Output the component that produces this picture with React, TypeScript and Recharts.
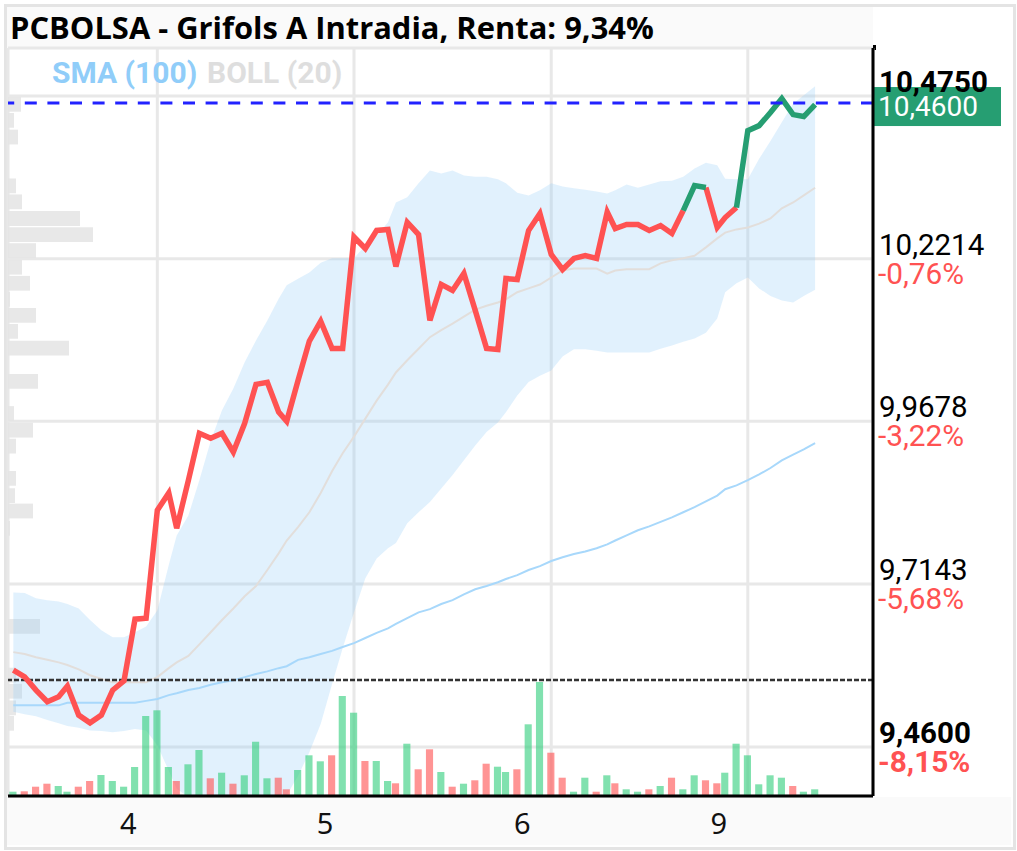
import React from "react";
import { ComposedChart, CartesianGrid, XAxis, YAxis, Area, Line, Bar, Cell, ReferenceLine, ReferenceArea } from "recharts";

const times = [0,1,2,3,4,4.77,5.77,6.77,7.77,8.77,9.77,10.74,11.72,12.71,13.72,14.42,15.45,16.42,17.42,18.42,19.42,20.42,21.42,22.42,23.42,24.13,25.13,26.13,27.13,28.13,29.07,30.07,31.07,32.07,33.07,33.77,34.77,35.77,36.77,37.77,38.77,39.77,40.77,41.77,42.77,43.48,44.48,45.48,46.48,47.48,48.48,49.48,50.48,51.48,52.42,53.13,54.13,55.13,56.13,57.13,58.13,59.13,60.13,61.13,62.13,62.83,63.83,64.83,65.83,66.83,67.83,68.83,69.77,70.77];
const price = [9.5799,9.5695,9.5488,9.5306,9.5383,9.555,9.5098,9.4978,9.5098,9.5488,9.5633,9.6594,9.6609,9.8292,9.8561,9.8011,9.8759,9.9491,9.9413,9.9491,9.92,9.9647,10.0254,10.0285,9.9823,9.9678,10.0316,10.0929,10.124,10.0815,10.0815,10.2552,10.2372,10.2653,10.2668,10.2092,10.2782,10.259,10.1251,10.1812,10.1718,10.1983,10.1407,10.0815,10.0799,10.1905,10.189,10.2653,10.2918,10.2279,10.2045,10.2217,10.2263,10.2217,10.2941,10.2684,10.2746,10.2746,10.2653,10.273,10.2606,10.2964,10.3353,10.3322,10.27,10.2855,10.3011,10.421,10.4288,10.4491,10.4709,10.446,10.4429,10.4615];
const greenRuns = [[61,63],[66,73]];
const sma = [9.525,9.525,9.525,9.525,9.525,9.529,9.529,9.529,9.529,9.529,9.529,9.529,9.532,9.535,9.541,9.544,9.549,9.552,9.557,9.561,9.564,9.569,9.574,9.578,9.583,9.586,9.596,9.6,9.605,9.61,9.616,9.622,9.63,9.638,9.645,9.652,9.661,9.67,9.675,9.683,9.689,9.698,9.706,9.711,9.717,9.722,9.728,9.736,9.742,9.75,9.756,9.761,9.765,9.77,9.776,9.782,9.79,9.798,9.804,9.811,9.818,9.826,9.834,9.843,9.852,9.862,9.868,9.876,9.885,9.895,9.907,9.916,9.924,9.934];
const bollMid = [9.608,9.605,9.6,9.596,9.592,9.588,9.581,9.572,9.566,9.561,9.561,9.561,9.561,9.569,9.583,9.592,9.602,9.62,9.639,9.658,9.676,9.695,9.711,9.736,9.762,9.782,9.803,9.826,9.856,9.89,9.918,9.944,9.972,10.0,10.025,10.044,10.063,10.081,10.099,10.11,10.12,10.131,10.142,10.148,10.153,10.158,10.169,10.175,10.181,10.192,10.203,10.206,10.206,10.206,10.198,10.203,10.205,10.205,10.205,10.214,10.219,10.222,10.226,10.239,10.253,10.262,10.267,10.27,10.276,10.284,10.3,10.309,10.32,10.332];
const bollUp = [9.701,9.7,9.692,9.689,9.687,9.683,9.676,9.658,9.642,9.631,9.631,9.639,9.648,9.673,9.744,9.79,9.821,9.876,9.937,9.985,10.019,10.06,10.094,10.125,10.159,10.18,10.19,10.2,10.215,10.222,10.222,10.222,10.242,10.257,10.278,10.309,10.317,10.339,10.359,10.354,10.359,10.351,10.349,10.349,10.345,10.339,10.324,10.32,10.328,10.339,10.334,10.331,10.329,10.326,10.323,10.328,10.337,10.332,10.337,10.342,10.343,10.349,10.362,10.371,10.367,10.346,10.345,10.345,10.377,10.405,10.434,10.463,10.476,10.49];
const bollLo = [9.515,9.511,9.508,9.502,9.497,9.493,9.49,9.486,9.485,9.483,9.485,9.488,9.486,9.463,9.423,9.395,9.382,9.365,9.342,9.331,9.334,9.331,9.328,9.346,9.365,9.385,9.415,9.452,9.496,9.558,9.614,9.67,9.723,9.754,9.77,9.778,9.809,9.826,9.842,9.863,9.884,9.907,9.93,9.951,9.966,9.982,10.008,10.029,10.039,10.047,10.069,10.08,10.08,10.078,10.075,10.075,10.075,10.075,10.075,10.081,10.086,10.092,10.097,10.106,10.128,10.169,10.183,10.192,10.175,10.163,10.156,10.153,10.163,10.173];
const volume = [4.3,4.7,9.3,12.3,10,4.3,9.3,15,21,15,9.3,29,80,85.7,29,15,31.7,46,17.7,23.3,12.3,20.7,54.3,17.7,18.3,6.7,26,40.7,34.7,40.7,100,83.3,35,35,15,12.7,52.3,26.7,46.7,24,9.3,12.3,15.7,32.3,29.3,24,26.7,71.7,114,43.3,18.3,4.3,18.3,4.3,20.7,12.7,6.7,4.3,6.7,10,18.3,6.7,20.7,15.7,12.7,23.3,52.3,40.7,11.7,20.7,18.3,10,4.3,6.7];
const volumeUp = "GRRRGGRRGGGGGGGRGGRGRGGGRRGGGRGGRGGRGRRGRGRRGGRGGRRGGRGRGGRGRGGRRGGGGGGRGG";
const profilePrices = [10.462,10.437,10.411,10.335,10.31,10.284,10.259,10.234,10.208,10.183,10.158,10.133,10.108,10.082,10.03,9.98,9.954,9.929,9.879,9.852,9.828,9.801,9.648,9.572,9.547,9.521,9.497];
const profileVolume = [13,6,10,8,14,72,85,28,14,22,2,28,10,61,30,6,25,8,8,7,25,2,32,8,14,8,6];
const dayTicks = [12.71,30.07,47.48,64.83];
const dayLabels = ["4","5","6","9"];
const priceTicks = [10.475,10.2214,9.9678,9.7143,9.46];
const priceTickText = ["10,4750","10,2214","9,9678","9,7143","9,4600"];
const pctText = ["","-0,76%","-3,22%","-5,68%","-8,15%"];
const lastPrice = 10.464;
const lastPriceText = "10,4600";
const prevClose = 9.5644;

const RED = "#ff5252";
const GREEN = "#269e72";
const inGreen = (i: number, open: boolean) => greenRuns.some(([a, b]) => (open ? i >= a && i <= b : i > a && i < b));
const data = times.map((t, i) => ({
  t,
  red: inGreen(i, false) ? null : price[i],
  green: inGreen(i, true) ? price[i] : null,
  sma: sma[i],
  mid: bollMid[i],
  band: [bollLo[i], bollUp[i]],
  vol: volume[i],
}));

const X_MIN = -0.47;
const X_MAX = 75.88;
const ROBOTO = "Roboto, sans-serif";

const XTick = (p: any) => (
  <text x={p.x - 29} y={834} textAnchor="middle" fontFamily="'Noto Sans'" fontSize={29} fill="#111">
    {dayLabels[dayTicks.indexOf(p.payload.value)]}
  </text>
);
const YTick = (p: any) => {
  const i = priceTicks.indexOf(p.payload.value);
  const bold = i === 0 || i === priceTicks.length - 1;
  return (
    <g fontFamily={ROBOTO} fontWeight={bold ? 700 : 400}>
      <text x={879} y={p.y - 4} fill="#000" fontSize={29.5}>{priceTickText[i]}</text>
      <text x={878} y={p.y + 25} fill={RED} fontSize={29.8}>{pctText[i]}</text>
    </g>
  );
};
const PriceTag = (p: any) => {
  const y = p.viewBox.y;
  return (
    <g>
      <rect x={872} y={y - 16} width={129} height={39} fill={GREEN} />
      <text x={878} y={y + 13} fill="#fff" fontFamily={ROBOTO} fontSize={28}>{lastPriceText}</text>
    </g>
  );
};

export default function App() {
  return (
    <div style={{ position: "absolute", left: 0, top: 0, width: 1017, height: 851, background: "#fff", overflow: "hidden" }}>
      <div style={{ position: "absolute", left: 4, top: 4, width: 1006, height: 840, border: "3px solid #e4e4e4" }} />
      <div style={{ position: "absolute", left: 7, top: 797, width: 1004, height: 48, background: "#fafafa" }} />
      <div style={{ position: "absolute", left: 7, top: 7, width: 866, height: 41, background: "#fafafa" }} />
      <div style={{ position: "absolute", left: 10, top: 7, height: 41, lineHeight: "41px", fontFamily: "'Open Sans'", fontWeight: 700, fontSize: 30.9, color: "#000", whiteSpace: "nowrap" }}>
        PCBOLSA - Grifols A Intradia, Renta: 9,34%
      </div>
      <div style={{ position: "absolute", left: 873, top: 45, width: 3, height: 5, background: "#000" }} />
      <div style={{ position: "absolute", left: 0, top: 0 }}>
        <ComposedChart width={1017} height={851} data={data} margin={{ top: 48, right: 0, bottom: 0, left: 8 }}>
          <CartesianGrid stroke="#e8e8e8" strokeWidth={3} />
          <XAxis dataKey="t" type="number" domain={[X_MIN, X_MAX]} ticks={dayTicks} interval={0} allowDataOverflow height={55} tick={<XTick />} tickLine={false} axisLine={{ stroke: "#000", strokeWidth: 3 }} />
          <YAxis orientation="right" width={144} domain={[9.3837, 10.5498]} ticks={priceTicks} interval={0} allowDataOverflow tick={<YTick />} tickLine={false} axisLine={{ stroke: "#000", strokeWidth: 3 }} />
          <YAxis yAxisId="vol" hide domain={[0, 748]} />
          {profilePrices.map((p, i) => (
            <ReferenceArea key={i} x1={X_MIN} x2={X_MIN + profileVolume[i] / 11.33} y1={p - 0.0115} y2={p + 0.0115} fill="#e4e4e4" fillOpacity={0.85} stroke="none" />
          ))}
          <Area dataKey="band" type="linear" fill="#90cdf9" fillOpacity={0.27} stroke="none" isAnimationActive={false} dot={false} activeDot={false} />
          <Bar yAxisId="vol" dataKey="vol" barSize={9} isAnimationActive={false}>
            {data.map((_, i) => (
              <Cell key={i} fill={volumeUp[i] === "G" ? "#34cf7e" : "#ff5252"} fillOpacity={0.62} />
            ))}
          </Bar>
          <Line dataKey="sma" type="linear" stroke="#a8d8fb" strokeWidth={2} dot={false} activeDot={false} isAnimationActive={false} />
          <Line dataKey="mid" type="linear" stroke="#e2dedb" strokeWidth={2} dot={false} activeDot={false} isAnimationActive={false} />
          <ReferenceLine y={prevClose} stroke="#333" strokeWidth={2.5} strokeDasharray="5 2" />
          <Line dataKey="red" type="linear" stroke={RED} strokeWidth={5.5} dot={false} activeDot={false} connectNulls={false} isAnimationActive={false} />
          <Line dataKey="green" type="linear" stroke={GREEN} strokeWidth={5.5} dot={false} activeDot={false} connectNulls={false} isAnimationActive={false} />
          <ReferenceLine y={lastPrice} stroke="#2222ff" strokeWidth={3} strokeDasharray="12 10.6" label={<PriceTag />} />
        </ComposedChart>
      </div>
      <div style={{ position: "absolute", left: 52, top: 53, lineHeight: "40px", fontFamily: ROBOTO, fontWeight: 700, fontSize: 30, color: "#90cdf9", whiteSpace: "nowrap" }}>SMA (100)</div>
      <div style={{ position: "absolute", left: 207, top: 53, lineHeight: "40px", fontFamily: ROBOTO, fontWeight: 700, fontSize: 30, color: "#dedede", whiteSpace: "nowrap" }}>BOLL (20)</div>
    </div>
  );
}
